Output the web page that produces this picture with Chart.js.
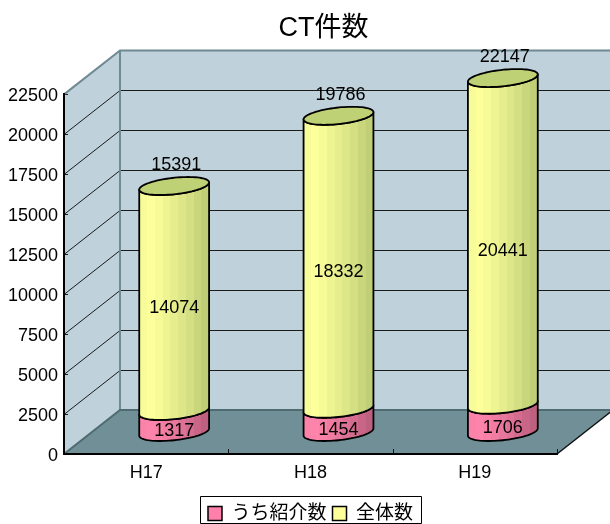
<!DOCTYPE html>
<html><head><meta charset="utf-8">
<style>html,body{margin:0;padding:0;background:#fff}#w{width:610px;height:524px;position:relative}</style>
<script src="https://cdn.jsdelivr.net/npm/chart.js@4"></script>
</head><body><div id="w"><canvas id="c" width="610" height="524"></canvas></div>
<script>
const categories = ["H17","H18","H19"];
const referred = [1317,1454,1706];
const overall = [14074,18332,20441];
const totals = [15391,19786,22147];
const seriesNames = ["うち紹介数","全体数"];
const FONT = '"Liberation Sans","Noto Sans CJK JP",sans-serif';
const DEPTH_X = 56, DEPTH_Y = 44;

function mix(a,b,t){return a.map((v,i)=>Math.round(v+(b[i]-v)*t));}
function bands(ctx,x0,x1,light,dark){
  const g=ctx.createLinearGradient(x0,0,x1,0),n=9;
  for(let i=0;i<n;i++){
    const t=i===0?0.06:Math.pow((i-1)/(n-2),1.2);
    const c=mix(light,dark,t),s='rgb('+c.join(',')+')';
    g.addColorStop(i/n,s);g.addColorStop((i+1)/n,s);
  }
  return g;
}
function ep(cx,cy,t,a,b,k){return [cx+a*Math.cos(t)+k*Math.sin(t),cy-b*Math.sin(t)];}
const plugin3d={
  id:'plugin3d',
  afterLayout(chart){
    const t=chart.titleBlock;t.left+=45;t.right+=45;
    const g=chart.legend;g.left+=32;g.right+=32;g.top+=9;g.bottom+=9;
  },
  beforeDatasetDraw(){return false;},
  beforeDraw(chart){
    const ctx=chart.ctx,{left:l,right:r,top:t,bottom:b}=chart.chartArea,y=chart.scales.y;
    ctx.save();
    ctx.fillStyle='#BFD1DA';
    ctx.fillRect(l+DEPTH_X,t-DEPTH_Y,r-l,b-t);
    ctx.beginPath();ctx.moveTo(l,b);ctx.lineTo(l,t);ctx.lineTo(l+DEPTH_X,t-DEPTH_Y);ctx.lineTo(l+DEPTH_X,b-DEPTH_Y);ctx.closePath();ctx.fill();
    ctx.fillStyle='#708F97';
    ctx.beginPath();ctx.moveTo(l,b);ctx.lineTo(r,b);ctx.lineTo(r+DEPTH_X,b-DEPTH_Y);ctx.lineTo(l+DEPTH_X,b-DEPTH_Y);ctx.closePath();ctx.fill();
    ctx.strokeStyle='#1a1a1a';ctx.lineWidth=1;
    y.ticks.forEach(tk=>{
      if(tk.value===0)return;
      const p=Math.round(y.getPixelForValue(tk.value))+0.5;
      if(tk.value<y.max){
        ctx.beginPath();ctx.moveTo(l,p);ctx.lineTo(l+DEPTH_X,p-DEPTH_Y);ctx.lineTo(r+DEPTH_X,p-DEPTH_Y);ctx.stroke();
      }
      ctx.beginPath();ctx.moveTo(l,p);ctx.lineTo(l+4,p);ctx.stroke();
    });
    ctx.strokeStyle='#6F8A92';ctx.lineWidth=2;
    ctx.beginPath();ctx.moveTo(l,t);ctx.lineTo(l+DEPTH_X,t-DEPTH_Y);ctx.lineTo(r+DEPTH_X,t-DEPTH_Y);ctx.moveTo(l+DEPTH_X,t-DEPTH_Y);ctx.lineTo(l+DEPTH_X,b-DEPTH_Y);ctx.stroke();
    ctx.strokeStyle='#4f6b72';ctx.beginPath();ctx.moveTo(l,b);ctx.lineTo(l+DEPTH_X,b-DEPTH_Y);ctx.lineTo(r+DEPTH_X,b-DEPTH_Y);ctx.stroke();
    ctx.strokeStyle='#111';ctx.lineWidth=1.5;
    ctx.beginPath();ctx.moveTo(r,b);ctx.lineTo(r+DEPTH_X,b-DEPTH_Y);ctx.stroke();
    ctx.restore();
  },
  afterDatasetsDraw(chart){
    const ctx=chart.ctx,{bottom:b,left:l,right:r}=chart.chartArea,y=chart.scales.y;
    ctx.save();
    ctx.strokeStyle='#111';ctx.lineWidth=1;
    const step=(r-l)/categories.length;
    for(let i=1;i<=categories.length;i++){const p=Math.round(l+step*i)+0.5;ctx.beginPath();ctx.moveTo(p,b);ctx.lineTo(p,b-5);ctx.stroke();}
    const a=32,e=9,k=14,t0=Math.atan2(k,a);
    const looks=[[[255,132,172],[190,96,128]],[[252,255,154],[192,206,118]]];
    categories.forEach((_,i)=>{
      [0,1].forEach(ds=>{
        const bar=chart.getDatasetMeta(ds).data[i];
        const cx=bar.x+DEPTH_X/2,half=Math.hypot(a,k);
        const yb=bar.base-DEPTH_Y/2,yt=bar.y-DEPTH_Y/2;
        ctx.beginPath();
        const N=40;
        for(let n=0;n<=N;n++){const t=t0+Math.PI+Math.PI*n/N,p=ep(cx,yb,t,a,e,k);n?ctx.lineTo(p[0],p[1]):ctx.moveTo(p[0],p[1]);}
        for(let n=0;n<=N;n++){const t=t0+2*Math.PI-Math.PI*n/N,p=ep(cx,yt,t,a,e,k);ctx.lineTo(p[0],p[1]);}
        ctx.closePath();
        ctx.fillStyle=bands(ctx,cx-half,cx+half,looks[ds][0],looks[ds][1]);
        ctx.fill();
        ctx.strokeStyle='#000';ctx.lineWidth=1.8;ctx.lineJoin='round';ctx.stroke();
        if(ds===1){
          ctx.beginPath();
          for(let n=0;n<=80;n++){const p=ep(cx,yt,2*Math.PI*n/80,a,e,k);n?ctx.lineTo(p[0],p[1]):ctx.moveTo(p[0],p[1]);}
          ctx.closePath();ctx.fillStyle='#BFD175';ctx.fill();ctx.stroke();
        }
      });
    });
    ctx.fillStyle='#000';ctx.font='18px '+FONT;ctx.textAlign='center';ctx.textBaseline='middle';
    categories.forEach((_,i)=>{
      [[0,referred[i]],[1,overall[i]]].forEach(([ds,v])=>{
        const bar=chart.getDatasetMeta(ds).data[i];
        ctx.fillText(String(v),bar.x+DEPTH_X/2,(bar.y+bar.base)/2-DEPTH_Y/2+10);
      });
      const top=chart.getDatasetMeta(1).data[i];
      ctx.fillText(String(totals[i]),top.x+DEPTH_X/2+2,y.getPixelForValue(totals[i])-DEPTH_Y/2-21);
    });
    const lg=chart.legend,cx=(lg.left+lg.right)/2,w=221,ft=Math.round(lg.top)-2;
    ctx.strokeStyle='#000';ctx.lineWidth=1;
    ctx.strokeRect(Math.round(cx-w/2)+0.5,ft+0.5,w,chart.height-ft-1);
    ctx.restore();
  }
};
new Chart(document.getElementById('c'),{
  type:'bar',
  data:{labels:categories,datasets:[
    {label:seriesNames[0],data:referred,backgroundColor:'#FF80AB',borderColor:'#000',borderWidth:1.5},
    {label:seriesNames[1],data:overall,backgroundColor:'#FFFF99',borderColor:'#000',borderWidth:1.5}
  ]},
  plugins:[plugin3d],
  options:{
    responsive:false,animation:false,
    layout:{padding:{left:0,right:53,top:0,bottom:0}},
    plugins:{
      tooltip:{enabled:false},
      title:{display:true,text:'CT件数',color:'#000',font:{family:FONT,size:27,weight:'normal'},padding:{top:12,bottom:50}},
      legend:{display:true,position:'bottom',labels:{color:'#000',font:{family:FONT,size:19},boxWidth:14,boxHeight:14,padding:6}}
    },
    scales:{
      x:{stacked:true,grid:{display:false,drawTicks:false},border:{display:true,color:'#000',width:2},
         ticks:{color:'#000',font:{family:FONT,size:18},padding:8,maxRotation:0},
         afterFit(s){s.height=35;}},
      y:{stacked:true,min:0,max:22500,grid:{display:false,drawTicks:false},border:{display:true,color:'#000',width:2},
         ticks:{stepSize:2500,color:'#000',font:{family:FONT,size:18},padding:6,labelOffset:2,callback:v=>String(v)},
         afterFit(s){s.width=64;}}
    }
  }
});
</script>
</body></html>
